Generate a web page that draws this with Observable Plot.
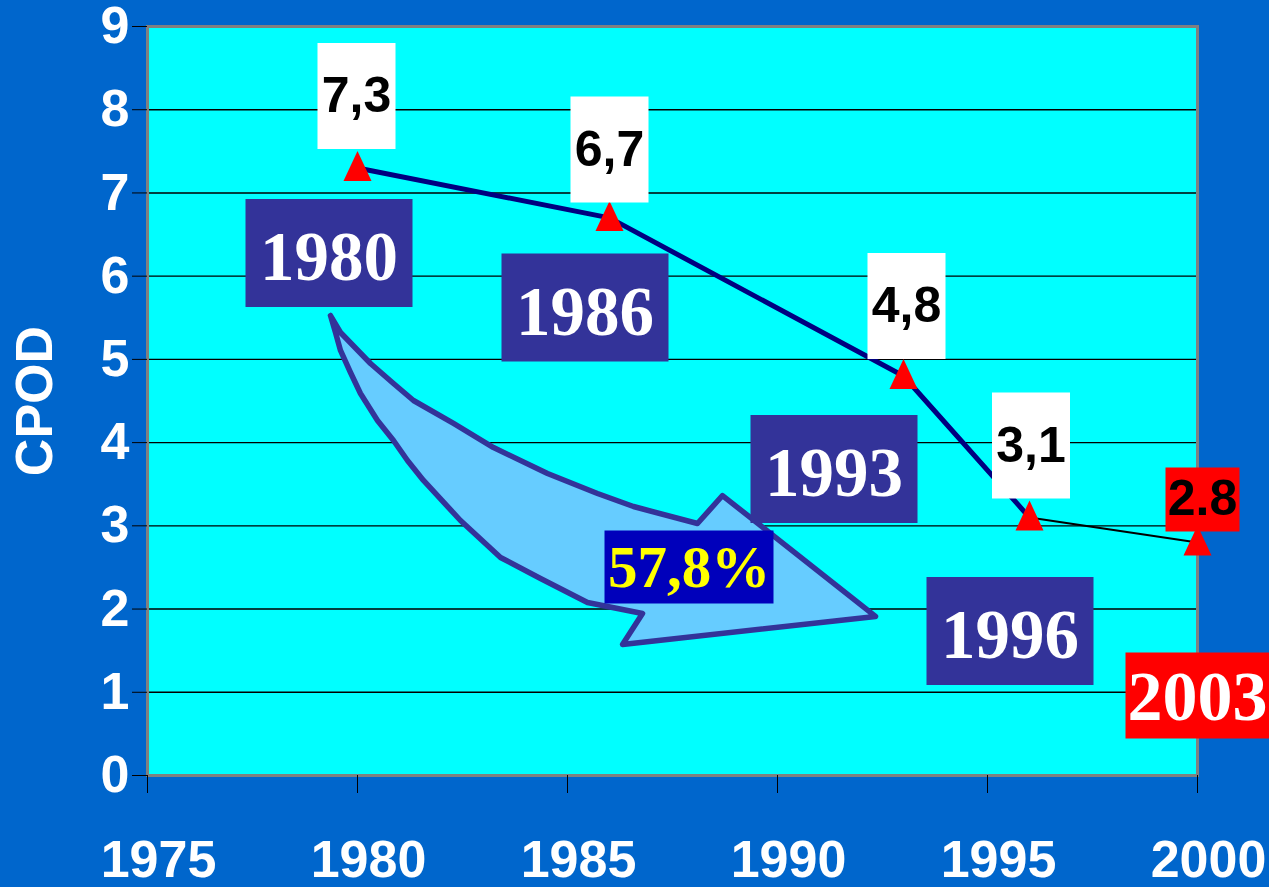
<!DOCTYPE html>
<html><head><meta charset="utf-8">
<script src="https://cdn.jsdelivr.net/npm/d3@7"></script>
<script src="https://cdn.jsdelivr.net/npm/@observablehq/plot@0.6"></script>
<style>
html,body{margin:0;padding:0;background:#0066CC;}
#chart svg{display:block;}
</style></head><body><div id="chart"></div>
<script>
// ---- data ----
const years = [1980, 1986, 1993, 1996, 2000];
const values = [7.3, 6.7, 4.8, 3.1, 2.8];
const valueLabels = ["7,3", "6,7", "4,8", "3,1", "2.8"];
const yearLabels = ["1980", "1986", "1993", "1996", "2003"];
const xTicks = [1975, 1980, 1985, 1990, 1995, 2000];
const yTicks = [0, 1, 2, 3, 4, 5, 6, 7, 8, 9];
const yLabel = "CPOD";
const reductionLabel = "57,8%";
// decorative curved arrow outline (in chart units: year, value)
const arrowYears = [1979.357,1979.595,1980.310,1980.857,1981.333,1982.286,1983.238,1984.524,1985.714,1986.571,1988.095,1988.690,1992.333,1986.310,1986.786,1985.476,1984.357,1983.405,1982.452,1981.571,1981.190,1980.857,1980.476,1980.071,1979.833,1979.595,1979.476,1979.357];
const arrowValues = [5.527,5.323,4.951,4.710,4.506,4.230,3.941,3.629,3.389,3.232,3.028,3.364,1.911,1.574,1.947,2.079,2.367,2.620,3.064,3.545,3.785,4.025,4.266,4.590,4.843,5.107,5.323,5.527];

// ---- tables ----
const pts = years.map((x, i) => ({x, y: values[i], v: valueLabels[i], yl: yearLabels[i]}));
const arrow = arrowYears.map((x, i) => ({x, y: arrowValues[i]}));

// ---- layout / style (pixel offsets of the callouts relative to their points) ----
const valueOff = [[-1, -72], [0, -68.4], [3, -70], [1.5, -72], [5, -43]];
const yearOff = [[-28.5, 85], [-24.5, 89.6], [-69.5, 93], [-19.5, 113.5], [0, 153]];
const rectSym = (w, h) => ({draw(c) { c.rect(-w / 2, -h / 2, w, h); }});
const triSym = {draw(c) { c.moveTo(0, -17); c.lineTo(14, 13); c.lineTo(-14, 13); c.closePath(); }};
const SANS = "'Liberation Sans', Arial, sans-serif";
const SERIF = "'Liberation Serif', 'Times New Roman', serif";
const fmt = d => String(d);

const callouts = [];
pts.forEach((d, i) => {
  const last = i === pts.length - 1;
  const [vx, vy] = valueOff[i];
  callouts.push(Plot.dot([d], {x: "x", y: "y", dx: vx, dy: vy, symbol: last ? rectSym(74, 64) : rectSym(78, 106), fill: last ? "#FF0000" : "#FFFFFF", stroke: "none"}));
  callouts.push(Plot.text([d], {x: "x", y: "y", text: "v", dx: vx, dy: vy, fill: "#000000", fontFamily: SANS, fontWeight: "bold", fontSize: 50}));
  const [yx, yy] = yearOff[i];
  callouts.push(Plot.dot([d], {x: "x", y: "y", dx: yx, dy: yy, symbol: last ? rectSym(144, 86) : rectSym(167, 108), fill: last ? "#FF0000" : "#333399", stroke: "none"}));
  callouts.push(Plot.text([d], {x: "x", y: "y", text: "yl", dx: yx, dy: yy + (last ? 2 : 5), fill: "#FFFFFF", fontFamily: SERIF, fontWeight: "bold", fontSize: last ? 70 : 69}));
});
// reduction note, anchored to the 1986 point
const note = [pts[1]];
callouts.push(Plot.dot(note, {x: "x", y: "y", dx: 79.5, dy: 349, symbol: rectSym(169, 73), fill: "#0000BB", stroke: "none"}));
callouts.push(Plot.text(note, {x: "x", y: "y", text: () => reductionLabel, dx: 79.5, dy: 350, fill: "#FFFF00", fontFamily: SERIF, fontWeight: "bold", fontSize: 59}));

const chart = Plot.plot({
  width: 1269,
  height: 887,
  marginLeft: 147,
  marginRight: 72,
  marginTop: 26,
  marginBottom: 112,
  style: {background: "#0066CC", fontFamily: SANS, fontWeight: "bold", fontSize: "52px", color: "white"},
  x: {domain: [1975, 2000], ticks: xTicks, tickFormat: fmt},
  y: {domain: [0, 9], ticks: yTicks, tickFormat: fmt},
  marks: [
    Plot.frame({fill: "#00FFFF", stroke: "none"}),
    Plot.gridY(yTicks, {stroke: "#000000", strokeOpacity: 1, strokeWidth: 1.4}),
    Plot.frame({stroke: "#808080", strokeWidth: 3}),
    Plot.line(arrow, {x: "x", y: "y", fill: "#66CCFF", stroke: "#333399", strokeWidth: 5.5, strokeLinejoin: "round", strokeLinecap: "round"}),
    Plot.line(pts.slice(0, 4), {x: "x", y: "y", stroke: "#000080", strokeWidth: 5}),
    Plot.line(pts.slice(3), {x: "x", y: "y", stroke: "#000000", strokeWidth: 2}),
    Plot.dot(pts, {x: "x", y: "y", symbol: triSym, fill: "#FF0000", stroke: "none"}),
    ...callouts,
    Plot.axisY(yTicks, {tickSize: 15, stroke: "#000000", fill: "none", label: null}),
    Plot.axisY(yTicks, {tickSize: 0, tickPadding: 18, fill: "#FFFFFF", fontSize: 52, fontWeight: "bold", fontFamily: SANS, tickFormat: fmt,
      label: yLabel, labelAnchor: "center", labelArrow: "none", labelOffset: 132}),
    Plot.axisX(xTicks, {tickSize: 18, stroke: "#000000", fill: "none", label: null}),
    Plot.axisX(xTicks, {tickSize: 0, tickPadding: 65, dx: 11, fill: "#FFFFFF", fontSize: 52, fontWeight: "bold", fontFamily: SANS, tickFormat: fmt, label: null})
  ]
});
document.getElementById("chart").append(chart);
</script></body></html>
